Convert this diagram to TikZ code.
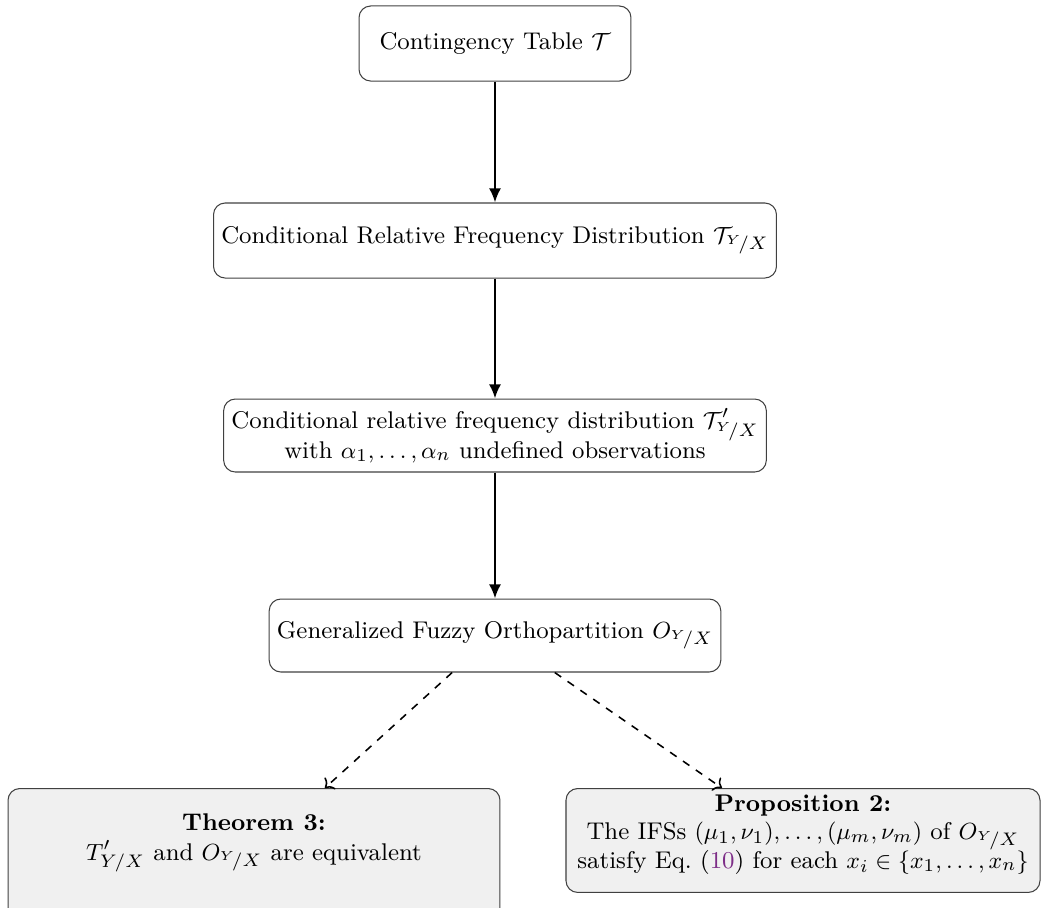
\documentclass[tikz,border=0pt]{standalone}
\usepackage{amsmath}
\usepackage{amssymb}
\usetikzlibrary{arrows.meta}
\definecolor{linkpurple}{RGB}{125,45,135}
\newcommand{\ygivenx}{{}^{Y}\!/X}

\begin{document}
\begin{tikzpicture}[x=0.385pt,y=-0.385pt,font=\fontsize{9.3}{11.5}\selectfont]
	\tikzstyle{block} = [rectangle,rounded corners=4.5pt,draw=black!75,align=center,inner sep=3pt]
	\tikzstyle{result} = [block,fill=black!6,anchor=north]
	\tikzstyle{resulttext} = [align=center,anchor=north,inner sep=1pt]
	\useasboundingbox (0,0) rectangle (1045,907);
	% pipeline
	\node[block,minimum width=104.7pt,minimum height=28.9pt] (table) at (495,43.5) {Contingency Table $\mathcal{T}$};
	\node[block,minimum width=210.2pt,minimum height=28.9pt] (crfd) at (495,240.5) {Conditional Relative Frequency Distribution $\mathcal{T}_{\ygivenx}$};
	\node[block,minimum width=203.7pt,minimum height=28.1pt] (undef) at (495,435.5) {Conditional relative frequency distribution $\mathcal{T}'_{\ygivenx}$\\ with $\alpha_1,\ldots,\alpha_n$ undefined observations};
	\node[block,minimum width=170.2pt,minimum height=28.1pt] (gfo) at (495,635.5) {Generalized Fuzzy Orthopartition $O_{\ygivenx}$};
	% results
	\node[result,minimum width=189.4pt,minimum height=60pt,
		label={[resulttext,yshift=-8.6pt]north:{\textbf{Theorem 3:}\\ $T'_{Y/X}$ and $O_{\ygivenx}$ are equivalent}}] (thm) at (254,788) {};
	\node[result,minimum width=182.5pt,minimum height=40pt,
		label={[resulttext,yshift=-1.5pt]north:{\textbf{Proposition 2:}\\[-0.6pt] The IFSs $(\mu_1,\nu_1),\ldots,(\mu_m,\nu_m)$ of $O_{\ygivenx}$\\[-0.6pt] satisfy Eq.~(\textcolor{linkpurple}{10}) for each $x_i\in\{x_1,\ldots,x_n\}$}}] (prop) at (803,788) {};
	% connections
	\foreach \a/\b in {table/crfd,crfd/undef,undef/gfo}
		\draw[-{Latex[length=5.4pt,width=4.6pt]},thick] (\a.south) -- (\b.north);
	\draw[->,dashed,semithick] ([xshift=-16.5pt]gfo.south) -- ([xshift=27.3pt]thm.north);
	\draw[->,dashed,semithick] ([xshift=23pt]gfo.south) -- ([xshift=-31.2pt]prop.north);
\end{tikzpicture}
\end{document}
